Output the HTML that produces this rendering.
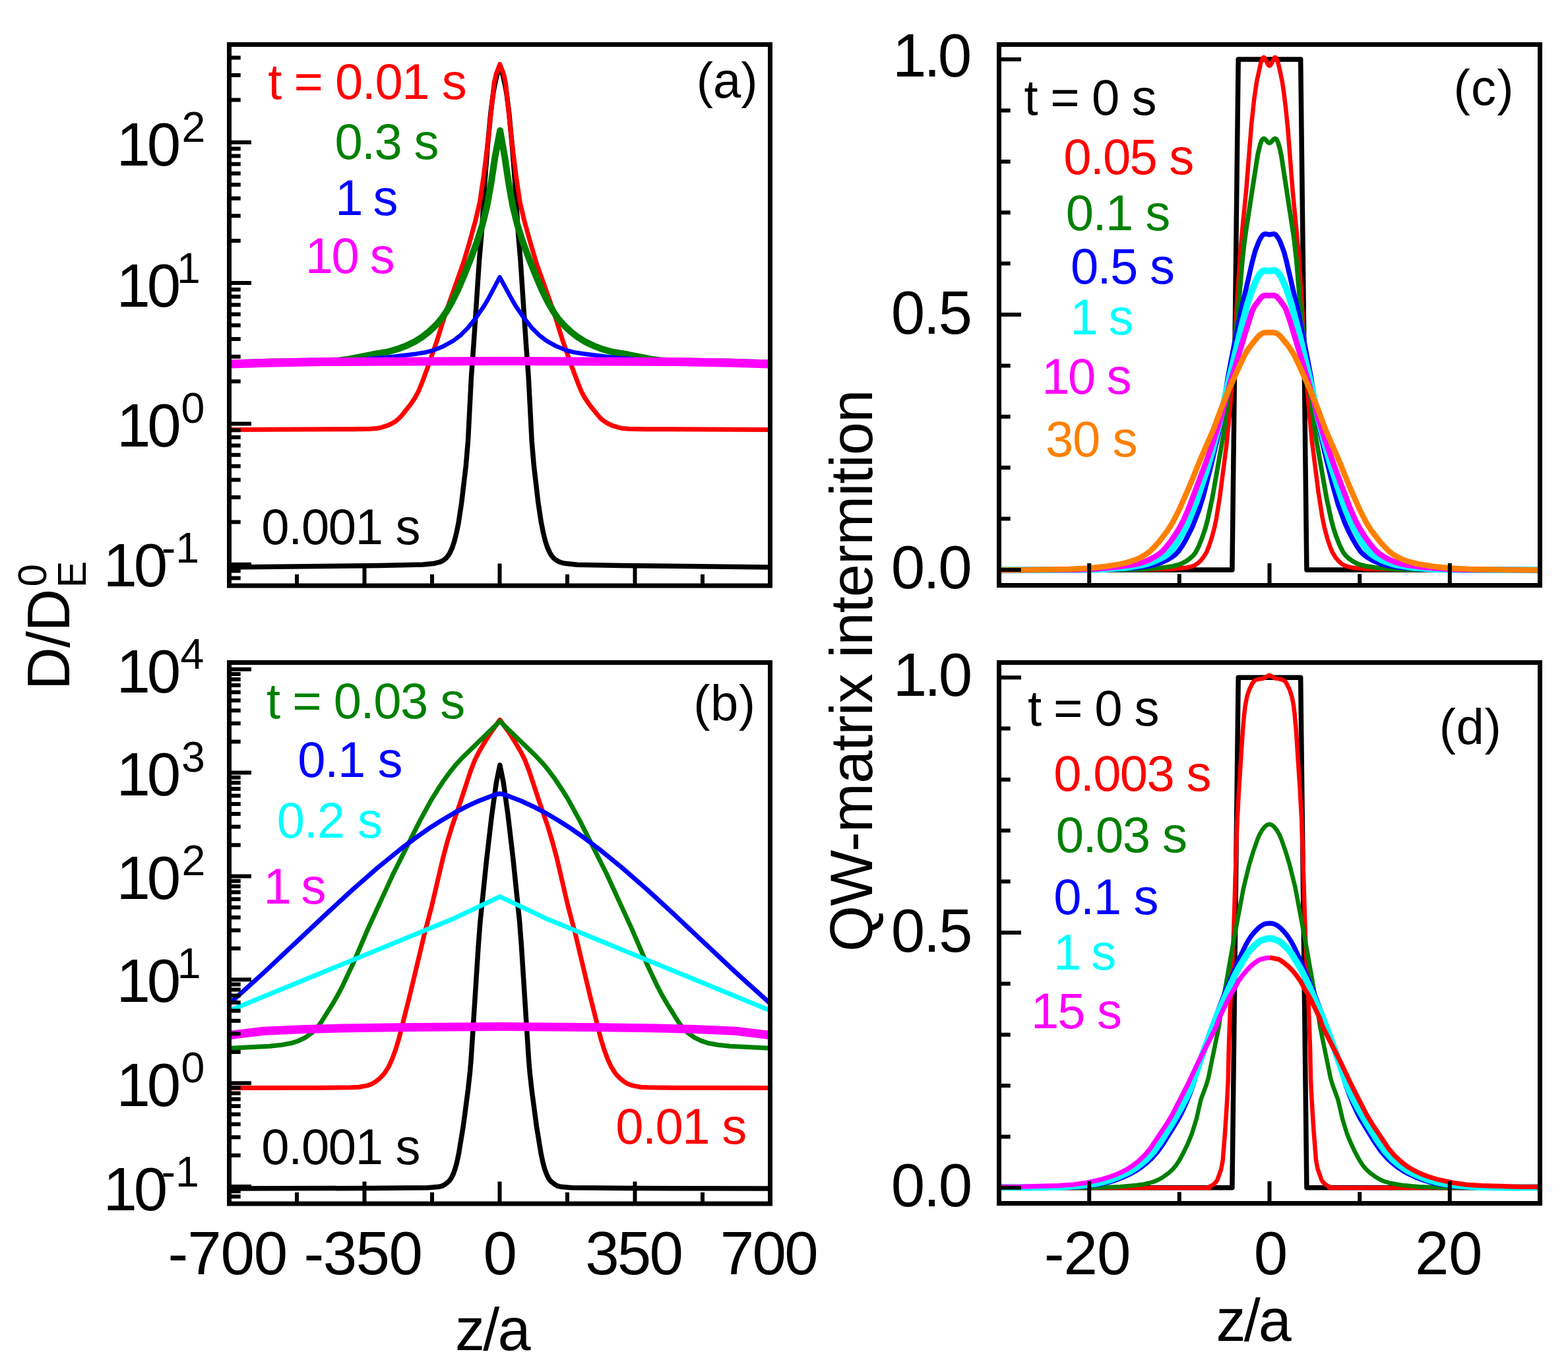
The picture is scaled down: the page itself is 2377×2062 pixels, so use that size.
<!DOCTYPE html><html><head><meta charset="utf-8"><title>Figure</title><style>html,body{margin:0;padding:0;background:#fff;}svg{display:block;}</style></head><body>
<svg xmlns="http://www.w3.org/2000/svg" width="2377" height="2062" viewBox="0 0 2377 2062" font-family="'Liberation Sans', Arial, Helvetica, sans-serif">
<rect width="2377" height="2062" fill="#fff"/>
<path d="M348.1,860.0L575.1,857.4L641.1,856.1L659.0,854.2L667.6,851.9L672.0,849.6L675.9,846.5L679.2,842.8L681.8,838.6L685.6,830.4L688.7,820.9L691.9,808.3L695.1,792.7L699.6,763.0L706.3,706.4L709.5,668.5L714.5,570.7L718.1,521.8L726.5,395.1L729.9,356.2L735.1,274.4L738.9,224.5L743.9,170.8L747.9,140.0L750.1,128.2L753.9,111.7L755.9,106.3L756.9,105.1L757.9,104.8L759.0,105.3L759.9,106.6L761.8,112.1L765.6,128.7L767.9,141.5L771.7,171.2L776.8,226.0L780.6,274.8L785.7,355.7L789.0,394.5L797.5,522.2L801.1,570.1L806.2,669.0L809.3,705.8L815.8,761.5L820.4,792.1L823.6,807.8L826.7,820.4L829.8,829.9L833.5,838.1L836.1,842.3L839.3,846.1L843.2,849.3L847.5,851.7L852.2,853.3L857.1,854.3L875.0,856.2L942.0,857.4L1167.5,860.0" fill="none" stroke="#000000" stroke-width="7.5" stroke-linejoin="round" stroke-linecap="butt"/>
<path d="M348.1,651.5L537.1,650.7L561.1,650.3L571.0,649.6L578.8,647.9L587.4,645.2L593.8,642.3L599.7,638.7L604.3,634.9L608.5,630.6L622.2,613.4L628.9,603.5L634.1,593.8L638.8,582.7L648.2,557.4L662.7,515.9L675.1,475.8L702.5,398.5L711.1,369.8L720.9,334.1L727.5,305.8L733.4,265.3L740.3,209.7L749.0,126.2L752.1,112.5L757.8,97.4L763.8,113.3L766.5,126.0L775.3,209.5L782.1,265.1L788.1,305.7L794.6,333.9L804.5,369.6L813.0,398.3L840.4,475.6L853.1,516.7L867.3,557.3L876.8,582.6L881.4,593.6L886.6,603.3L893.3,613.3L907.0,630.4L911.1,634.8L915.7,638.6L921.7,642.2L928.0,645.1L936.6,647.9L944.4,649.6L954.3,650.3L978.3,650.7L1167.5,651.5" fill="none" stroke="#ff0000" stroke-width="7" stroke-linejoin="round" stroke-linecap="butt"/>
<path d="M348.1,550.5L413.1,548.6L499.1,547.2L514.0,546.4L527.9,544.7L565.2,537.3L586.9,533.7L603.2,529.0L616.3,524.1L628.8,517.9L639.9,511.0L650.1,503.0L660.3,493.5L669.5,482.9L676.9,472.2L685.3,457.5L693.3,441.4L703.6,417.5L712.1,396.1L723.0,367.1L731.4,340.4L738.3,312.2L744.0,280.7L750.4,238.2L758.1,198.0L765.2,238.3L771.6,280.8L777.3,312.3L784.2,340.4L792.6,367.1L803.5,396.2L812.0,417.5L822.3,441.4L830.3,457.5L838.8,472.3L846.1,483.0L855.3,493.5L865.5,503.1L875.8,511.1L886.8,517.9L899.4,524.1L912.4,529.1L928.8,533.7L950.5,537.3L987.7,544.7L1001.6,546.4L1016.6,547.2L1102.6,548.6L1167.5,550.5" fill="none" stroke="#008000" stroke-width="10" stroke-linejoin="round" stroke-linecap="butt"/>
<path d="M348.1,550.7L401.1,549.1L505.1,546.9L555.0,544.5L585.9,542.0L631.5,536.4L645.4,534.2L657.0,531.1L671.8,525.2L686.6,517.0L697.8,508.6L709.2,497.3L721.6,481.7L733.5,464.4L740.6,452.3L757.6,420.2L774.9,452.0L781.9,464.1L793.2,480.6L806.2,497.1L817.5,508.3L828.7,516.8L843.5,525.1L858.3,531.0L869.9,534.1L883.7,536.3L929.4,542.0L960.3,544.4L1010.2,546.8L1114.2,549.1L1167.5,550.7" fill="none" stroke="#0000ff" stroke-width="6.5" stroke-linejoin="round" stroke-linecap="butt"/>
<path d="M348.1,552.0L405.1,550.3L490.1,548.5L758.1,547.6L1025.0,548.5L1110.0,550.3L1167.5,552.0" fill="none" stroke="#ff00ff" stroke-width="13" stroke-linejoin="round" stroke-linecap="butt"/>
<path d="M348.1,1802.0L563.1,1801.5L649.1,1800.7L664.0,1799.6L670.8,1798.0L674.2,1796.1L678.2,1793.1L681.0,1790.4L683.5,1787.2L686.7,1781.1L689.8,1772.6L692.5,1763.0L695.4,1749.3L702.2,1707.9L709.3,1654.3L712.4,1626.5L714.3,1603.6L725.1,1434.9L727.9,1398.0L737.4,1305.5L745.5,1236.0L752.4,1186.5L757.8,1160.0L763.2,1186.4L770.1,1236.0L778.2,1305.5L787.7,1398.0L790.5,1434.9L801.3,1603.6L803.2,1626.5L806.3,1654.3L813.4,1707.8L820.2,1749.3L823.1,1763.0L825.8,1772.6L828.9,1781.0L832.1,1787.2L834.5,1790.4L837.4,1793.1L841.4,1796.1L844.8,1798.0L851.5,1799.6L866.5,1800.7L952.5,1801.5L1167.5,1802.0" fill="none" stroke="#000000" stroke-width="7.5" stroke-linejoin="round" stroke-linecap="butt"/>
<path d="M348.1,1649.5L490.1,1649.3L532.1,1648.8L544.1,1648.2L556.8,1645.9L561.5,1644.4L566.0,1642.2L570.9,1638.9L575.5,1635.1L579.8,1630.8L583.6,1626.2L588.9,1617.8L594.0,1607.0L599.5,1592.0L604.5,1575.7L621.8,1506.9L643.6,1415.4L654.5,1373.8L671.1,1302.7L677.7,1277.6L685.6,1251.8L697.7,1216.8L713.6,1168.4L719.8,1152.5L726.5,1139.2L736.7,1122.0L745.5,1108.6L757.8,1091.4L770.1,1108.4L778.8,1121.8L789.0,1139.0L795.8,1152.4L801.9,1168.2L817.9,1216.7L830.0,1251.6L837.8,1277.5L844.5,1302.6L861.0,1373.7L872.0,1415.3L893.7,1506.7L911.0,1575.6L916.0,1591.8L921.6,1606.8L926.7,1617.7L932.0,1626.1L935.7,1630.8L940.0,1635.0L944.6,1638.8L949.5,1642.1L954.0,1644.3L958.6,1645.9L971.4,1648.2L983.4,1648.8L1024.4,1649.3L1167.5,1649.5" fill="none" stroke="#ff0000" stroke-width="7" stroke-linejoin="round" stroke-linecap="butt"/>
<path d="M348.4,1589.3L408.3,1586.3L427.2,1584.2L441.0,1581.8L452.4,1578.2L463.1,1573.0L472.8,1566.0L481.3,1557.6L487.1,1549.5L504.1,1522.4L512.1,1508.5L519.1,1495.3L534.9,1461.8L557.7,1408.5L596.1,1324.9L637.0,1243.6L654.3,1212.0L663.8,1196.8L673.8,1181.8L683.3,1168.9L692.2,1158.1L702.5,1147.2L757.8,1093.5L813.1,1147.1L823.4,1158.0L832.2,1168.8L841.7,1181.7L851.7,1196.7L861.2,1211.9L879.0,1244.4L919.5,1324.8L957.8,1408.4L980.7,1461.7L996.5,1495.2L1003.4,1508.4L1011.5,1522.3L1028.4,1549.4L1034.3,1557.5L1042.7,1565.9L1052.4,1572.9L1063.1,1578.2L1074.5,1581.8L1088.3,1584.2L1107.2,1586.2L1167.2,1589.3" fill="none" stroke="#008000" stroke-width="7" stroke-linejoin="round" stroke-linecap="butt"/>
<path d="M348.1,1521.3L400.1,1474.5L494.1,1386.1L533.1,1350.2L572.2,1315.9L607.9,1286.9L630.3,1270.1L649.9,1256.3L669.3,1243.9L689.1,1232.2L708.6,1222.1L725.9,1214.3L750.2,1205.1L754.0,1204.0L757.9,1203.5L761.7,1204.0L765.5,1205.1L789.8,1214.3L807.1,1222.2L826.6,1232.3L846.5,1244.0L865.8,1256.4L885.4,1270.2L907.8,1287.0L942.7,1315.4L981.9,1349.6L1020.9,1385.5L1115.6,1474.6L1167.5,1521.3" fill="none" stroke="#0000ff" stroke-width="7" stroke-linejoin="round" stroke-linecap="butt"/>
<path d="M348.4,1532.0L688.8,1392.2L757.8,1359.5L827.4,1392.4L1167.2,1532.0" fill="none" stroke="#00ffff" stroke-width="7" stroke-linejoin="round" stroke-linecap="butt"/>
<path d="M348.1,1569.5L399.7,1563.2L461.6,1560.4L516.6,1559.1L602.6,1557.7L757.6,1556.5L912.6,1557.7L998.6,1559.1L1053.6,1560.4L1115.5,1563.2L1167.5,1569.5" fill="none" stroke="#ff00ff" stroke-width="13" stroke-linejoin="round" stroke-linecap="butt"/>
<path d="M1514.5,863.9L1867.9,863.9L1877.2,90.1L1971.7,90.1L1980.9,863.9L2334.5,863.9" fill="none" stroke="#000" stroke-width="7.5" stroke-linejoin="round" stroke-linecap="butt"/>
<path d="M1514.4,863.9L1726.4,863.6L1777.4,862.9L1799.2,860.5L1806.1,859.0L1810.8,857.3L1815.8,854.1L1820.2,850.0L1825.1,843.7L1829.2,836.9L1833.0,827.6L1837.2,814.3L1841.1,799.8L1843.9,786.1L1849.3,752.5L1859.4,674.2L1864.5,621.4L1869.3,561.6L1875.6,450.8L1879.8,387.9L1883.8,342.1L1889.2,288.4L1897.1,188.7L1901.4,148.9L1905.2,123.2L1911.4,94.9L1913.8,88.4L1915.7,86.9L1917.6,88.4L1921.8,97.4L1922.9,99.0L1924.3,99.8L1925.7,99.3L1926.8,97.7L1931.6,87.9L1932.9,86.9L1933.6,87.0L1934.8,88.1L1937.0,93.6L1939.7,104.2L1943.6,122.8L1945.9,137.7L1949.2,164.5L1952.3,195.3L1959.6,289.0L1968.6,382.6L1972.8,445.4L1979.4,560.2L1983.5,612.1L1988.7,667.8L1998.6,746.2L2004.8,785.7L2007.9,800.4L2012.0,815.9L2016.7,830.1L2020.3,838.3L2024.6,845.1L2029.0,850.5L2033.5,854.5L2037.7,857.1L2042.4,858.9L2049.2,860.5L2072.0,862.9L2125.0,863.6L2334.4,863.9" fill="none" stroke="#ff0000" stroke-width="6.5" stroke-linejoin="round" stroke-linecap="butt"/>
<path d="M1514.4,863.9L1713.4,863.4L1734.4,862.9L1759.3,861.1L1778.1,858.4L1785.9,856.5L1791.5,854.4L1797.7,851.2L1803.4,847.2L1808.6,842.5L1812.3,837.8L1817.3,828.0L1822.5,815.0L1827.3,800.8L1830.9,787.3L1837.8,755.0L1854.4,660.5L1858.8,626.8L1875.8,480.8L1878.6,451.9L1882.9,400.1L1885.8,372.2L1888.9,349.4L1906.6,234.8L1910.6,218.3L1912.3,213.6L1913.9,211.2L1915.2,210.2L1916.8,210.3L1918.2,211.3L1922.1,215.7L1924.4,216.8L1926.7,215.7L1930.6,211.3L1932.8,210.1L1935.0,211.2L1937.3,215.5L1939.8,224.1L1942.4,235.8L1961.5,360.4L1965.3,394.1L1970.3,453.9L1973.3,483.8L1990.3,629.8L1994.9,663.5L2011.2,756.1L2017.9,787.4L2021.5,800.9L2025.9,814.2L2031.1,827.2L2036.0,837.0L2039.5,841.8L2044.6,846.6L2050.3,850.7L2056.4,854.0L2063.0,856.5L2069.8,858.2L2088.5,861.0L2114.5,862.9L2134.5,863.4L2334.4,863.9" fill="none" stroke="#008000" stroke-width="7" stroke-linejoin="round" stroke-linecap="butt"/>
<path d="M1514.4,863.9L1674.4,863.5L1693.4,862.9L1726.3,860.5L1747.0,857.2L1754.7,855.1L1761.3,852.7L1769.5,848.9L1777.2,844.3L1782.7,840.0L1786.7,835.6L1791.9,828.2L1797.0,819.6L1807.8,798.2L1817.6,773.0L1824.4,751.1L1836.2,704.5L1847.1,657.8L1850.7,639.1L1860.8,575.9L1865.8,548.4L1881.4,471.0L1898.6,395.9L1903.1,379.5L1908.6,365.6L1911.4,360.3L1913.7,357.0L1915.9,355.2L1918.6,354.6L1924.3,355.7L1931.0,354.6L1932.8,355.1L1934.3,356.2L1937.3,360.2L1940.6,366.3L1946.6,382.2L1950.4,396.8L1966.8,467.9L1982.2,544.3L1987.2,570.9L1997.8,637.0L2001.5,656.7L2007.9,685.0L2020.1,734.5L2028.6,765.3L2039.0,793.5L2043.9,804.4L2050.8,817.7L2056.9,828.1L2062.6,836.3L2066.8,840.6L2072.3,844.8L2080.1,849.3L2088.3,853.0L2094.9,855.4L2102.6,857.4L2123.4,860.6L2155.3,862.9L2174.3,863.5L2334.4,863.9" fill="none" stroke="#0000ff" stroke-width="7.5" stroke-linejoin="round" stroke-linecap="butt"/>
<path d="M1514.4,864.3L1645.4,863.8L1672.4,862.9L1706.3,860.5L1730.0,856.9L1737.8,855.0L1746.3,852.2L1755.6,848.4L1763.6,844.3L1770.2,839.8L1774.5,835.7L1780.7,827.8L1787.7,816.9L1795.9,802.0L1802.4,788.5L1813.2,761.6L1829.8,711.2L1838.2,682.4L1848.0,643.6L1861.8,581.2L1883.2,490.6L1891.1,460.7L1897.6,440.7L1905.5,422.4L1909.0,416.3L1912.2,412.5L1914.6,410.8L1916.4,410.2L1924.3,410.7L1931.2,410.1L1934.0,410.7L1937.1,413.0L1939.6,416.1L1942.7,421.2L1950.0,437.7L1957.3,459.5L1971.1,512.7L1988.7,588.7L1997.7,630.7L2007.0,668.6L2017.2,705.2L2032.6,752.8L2040.5,774.4L2050.9,798.2L2063.5,820.9L2068.5,828.4L2073.4,834.7L2078.4,839.6L2085.0,844.1L2093.0,848.3L2102.2,852.1L2110.8,854.9L2118.5,856.8L2142.2,860.5L2176.1,862.9L2203.1,863.8L2334.4,864.3" fill="none" stroke="#00ffff" stroke-width="10" stroke-linejoin="round" stroke-linecap="butt"/>
<path d="M1514.4,864.3L1633.4,863.7L1668.4,862.0L1694.2,859.6L1719.0,856.1L1726.8,854.4L1734.4,852.0L1742.7,848.5L1751.5,843.8L1758.2,839.4L1763.4,834.7L1774.2,821.6L1785.9,804.2L1793.5,790.1L1801.6,771.8L1828.7,699.8L1843.8,655.3L1852.0,628.5L1865.3,579.2L1887.5,505.5L1897.7,473.1L1901.0,465.8L1910.9,452.1L1914.5,448.7L1918.2,447.8L1924.1,448.3L1931.0,447.8L1934.6,449.0L1939.4,454.0L1947.5,465.4L1949.4,468.8L1956.2,488.7L1983.1,577.7L2000.3,640.4L2011.7,675.6L2022.7,706.7L2046.6,770.4L2055.9,791.4L2062.1,802.8L2069.6,814.6L2078.5,826.7L2085.7,835.0L2091.0,839.6L2097.6,844.0L2106.5,848.7L2114.8,852.1L2122.4,854.5L2130.2,856.2L2155.0,859.7L2180.9,862.0L2215.8,863.7L2334.4,864.3" fill="none" stroke="#ff00ff" stroke-width="8.5" stroke-linejoin="round" stroke-linecap="butt"/>
<path d="M1514.4,864.3L1561.4,864.0L1621.4,862.9L1650.3,861.4L1674.2,859.1L1697.9,855.4L1707.7,853.1L1716.3,850.5L1723.8,847.7L1731.0,844.2L1737.8,840.1L1743.3,835.8L1749.1,830.2L1755.8,822.8L1769.9,804.6L1777.8,791.9L1787.8,772.3L1803.1,737.5L1820.4,694.9L1839.6,650.9L1851.0,620.0L1861.8,593.0L1881.1,550.2L1888.2,535.9L1892.4,529.1L1899.0,520.2L1905.3,512.5L1910.2,507.6L1913.6,505.4L1917.3,504.2L1929.3,504.1L1932.2,504.4L1935.0,505.3L1938.4,507.4L1941.3,510.1L1953.3,524.8L1961.4,537.4L1967.6,550.0L1986.9,592.8L1997.7,619.7L2009.5,651.6L2028.3,694.7L2046.0,738.2L2060.9,772.1L2070.9,791.7L2078.8,804.4L2092.9,822.6L2105.3,835.6L2110.8,839.9L2117.6,844.1L2124.8,847.6L2132.3,850.5L2140.9,853.0L2150.6,855.3L2174.3,859.1L2198.2,861.4L2227.2,862.9L2287.1,864.0L2334.4,864.3" fill="none" stroke="#ff8000" stroke-width="8.5" stroke-linejoin="round" stroke-linecap="butt"/>
<path d="M1514.5,1800.8L1867.9,1800.8L1877.2,1027.2L1971.7,1027.2L1980.9,1800.8L2334.5,1800.8" fill="none" stroke="#000" stroke-width="7.5" stroke-linejoin="round" stroke-linecap="butt"/>
<path d="M1514.4,1800.8L1833.1,1801.0L1830.7,1800.2L1836.3,1798.0L1839.6,1795.8L1843.2,1792.4L1845.4,1789.1L1851.1,1773.1L1853.7,1759.3L1857.4,1712.5L1860.3,1666.6L1861.7,1637.6L1862.8,1587.6L1865.0,1525.6L1869.7,1426.8L1875.2,1251.8L1878.2,1195.9L1883.9,1109.1L1885.9,1085.2L1888.0,1068.3L1890.5,1055.6L1894.0,1045.2L1898.4,1036.2L1900.8,1033.0L1903.1,1031.2L1908.8,1029.5L1915.7,1028.6L1922.4,1024.4L1924.2,1023.8L1926.9,1024.6L1932.6,1028.4L1939.5,1029.4L1945.2,1031.0L1947.7,1032.6L1950.1,1035.8L1954.6,1044.7L1958.1,1055.1L1960.6,1066.8L1962.7,1083.7L1964.9,1108.6L1970.5,1194.4L1973.6,1251.3L1979.2,1427.3L1983.8,1525.1L1986.0,1588.1L1987.1,1638.1L1988.5,1667.1L1991.3,1712.0L1995.0,1758.8L1997.6,1772.6L2003.6,1789.5L2005.9,1792.7L2009.6,1796.1L2013.0,1798.2L2018.0,1800.1L2017.7,1800.6L2015.3,1801.0L2334.4,1800.8" fill="none" stroke="#ff0000" stroke-width="6.5" stroke-linejoin="round" stroke-linecap="butt"/>
<path d="M1514.4,1800.8L1664.4,1800.5L1698.4,1799.2L1723.3,1797.0L1734.1,1795.4L1742.9,1793.5L1750.6,1791.1L1757.0,1788.3L1763.8,1784.2L1771.8,1778.3L1777.7,1772.9L1782.9,1766.8L1788.3,1758.5L1794.9,1746.1L1801.3,1732.6L1806.6,1719.6L1813.7,1696.7L1820.4,1667.4L1829.0,1644.0L1831.8,1634.4L1847.8,1556.0L1851.2,1533.3L1868.0,1437.8L1885.1,1346.4L1893.4,1312.4L1899.8,1291.3L1906.7,1271.5L1909.5,1265.1L1913.0,1259.1L1917.3,1253.6L1921.0,1250.6L1924.4,1249.7L1927.8,1250.6L1931.5,1253.6L1935.8,1259.1L1939.3,1265.1L1942.1,1271.5L1949.0,1291.3L1955.3,1312.4L1963.7,1346.3L1980.8,1437.7L1997.6,1533.3L2001.0,1556.0L2017.0,1634.4L2020.1,1644.9L2028.4,1667.4L2035.1,1696.6L2042.2,1719.6L2047.5,1732.5L2053.9,1746.1L2060.5,1758.4L2065.9,1766.8L2071.1,1772.9L2077.0,1778.3L2085.0,1784.2L2092.7,1788.8L2099.2,1791.5L2106.8,1793.7L2125.5,1797.0L2150.4,1799.2L2184.4,1800.5L2334.4,1800.8" fill="none" stroke="#008000" stroke-width="6.5" stroke-linejoin="round" stroke-linecap="butt"/>
<path d="M1514.4,1800.8L1626.4,1800.0L1647.3,1798.5L1667.1,1795.6L1678.8,1793.0L1689.4,1789.9L1700.6,1785.7L1712.5,1780.4L1721.2,1775.6L1728.8,1770.7L1737.5,1763.9L1744.9,1757.2L1754.9,1746.1L1764.6,1732.1L1785.1,1699.0L1791.2,1687.5L1797.1,1674.8L1803.6,1659.1L1808.8,1645.0L1811.4,1636.4L1815.0,1620.8L1817.5,1612.2L1834.1,1565.0L1859.0,1499.6L1878.6,1453.6L1887.1,1435.5L1891.3,1427.6L1895.6,1420.8L1901.2,1413.7L1906.7,1407.9L1911.3,1404.1L1915.5,1401.5L1919.3,1400.3L1924.3,1399.8L1929.2,1400.2L1933.0,1401.4L1937.3,1403.9L1941.9,1407.7L1947.4,1413.5L1953.0,1420.6L1957.3,1427.3L1961.6,1435.2L1970.0,1453.3L1990.0,1500.3L2014.6,1564.7L2031.2,1611.9L2034.0,1621.5L2037.3,1636.1L2040.3,1645.7L2045.4,1659.8L2051.6,1674.5L2057.5,1687.2L2063.6,1698.7L2083.5,1731.0L2093.7,1745.9L2103.7,1757.0L2111.1,1763.7L2119.8,1770.5L2127.3,1775.5L2136.1,1780.2L2147.9,1785.6L2159.1,1789.8L2169.7,1793.0L2181.4,1795.6L2201.2,1798.5L2222.1,1800.0L2334.4,1800.8" fill="none" stroke="#0000ff" stroke-width="7.3" stroke-linejoin="round" stroke-linecap="butt"/>
<path d="M1514.4,1800.3L1575.4,1800.4L1609.4,1799.7L1638.3,1797.5L1662.1,1794.3L1672.8,1791.9L1683.4,1788.8L1694.6,1784.6L1706.5,1779.5L1714.5,1775.3L1722.1,1770.5L1730.1,1764.5L1737.0,1758.7L1748.7,1746.4L1759.8,1730.9L1777.7,1702.1L1790.7,1679.5L1798.1,1665.3L1803.9,1652.6L1809.0,1639.6L1825.8,1590.4L1844.9,1539.9L1862.3,1499.5L1872.0,1478.6L1878.1,1467.1L1890.5,1446.6L1895.3,1440.2L1900.9,1434.5L1907.6,1428.5L1910.9,1426.3L1919.4,1423.4L1924.3,1422.7L1929.2,1423.3L1937.7,1426.2L1941.0,1428.3L1947.7,1434.3L1953.3,1440.0L1958.2,1446.3L1970.6,1466.9L1977.1,1479.3L1986.4,1499.2L2003.8,1539.6L2022.9,1590.1L2040.0,1640.3L2045.2,1653.3L2050.6,1665.1L2058.0,1679.3L2070.9,1701.8L2088.3,1729.9L2099.9,1746.1L2111.6,1758.5L2118.4,1764.3L2126.4,1770.3L2134.0,1775.1L2142.0,1779.3L2153.9,1784.5L2165.2,1788.7L2175.7,1791.8L2186.4,1794.2L2210.2,1797.5L2239.1,1799.7L2273.1,1800.4L2334.4,1800.3" fill="none" stroke="#00ffff" stroke-width="10" stroke-linejoin="round" stroke-linecap="butt"/>
<path d="M1514.4,1799.3L1542.4,1799.3L1604.4,1797.7L1627.3,1796.0L1647.1,1793.2L1671.5,1787.7L1682.9,1784.1L1693.2,1780.3L1702.3,1776.2L1710.2,1771.8L1717.8,1766.9L1725.6,1760.7L1735.7,1751.1L1744.0,1741.1L1767.9,1705.3L1776.7,1690.8L1799.1,1647.2L1816.2,1611.0L1841.5,1561.1L1844.4,1554.7L1848.0,1544.3L1860.7,1517.2L1864.9,1509.2L1870.8,1500.0L1877.3,1487.6L1883.7,1478.7L1890.8,1470.2L1896.4,1464.6L1902.6,1459.5L1907.5,1456.1L1911.1,1454.4L1920.8,1452.3L1924.8,1452.0" fill="none" stroke="#ff00ff" stroke-width="7.2" stroke-linejoin="round" stroke-linecap="butt"/>
<path d="M1924.8,1452.0L1928.7,1452.5L1938.5,1454.6L1942.0,1456.5L1946.8,1460.0L1953.0,1465.1L1958.6,1470.8L1965.6,1479.3L1971.4,1487.4L1977.9,1499.8L1983.8,1509.1L1988.0,1517.0L2000.8,1544.2L2004.3,1554.5L2007.2,1560.9L2032.5,1610.8L2049.6,1647.0L2072.0,1690.6L2081.3,1706.0L2105.3,1741.7L2113.6,1751.6L2123.8,1761.2L2131.7,1767.4L2139.2,1772.2L2147.2,1776.5L2156.3,1780.6L2166.6,1784.4L2178.1,1787.9L2202.5,1793.3L2222.3,1796.1L2245.2,1797.7L2307.2,1799.4L2334.4,1799.3" fill="none" stroke="#ff0000" stroke-width="7.2" stroke-linejoin="round" stroke-linecap="butt"/>
<rect x="347.5" y="67.5" width="820.0" height="820.5" fill="none" stroke="#000" stroke-width="7"/>
<rect x="347.5" y="1004.5" width="820.0" height="820.5" fill="none" stroke="#000" stroke-width="7"/>
<rect x="1514.5" y="67.5" width="820.0" height="820.0" fill="none" stroke="#000" stroke-width="7"/>
<rect x="1514.5" y="1004.5" width="820.0" height="820.0" fill="none" stroke="#000" stroke-width="7"/>
<path d="M347.5,855.8h33.5M347.5,642.5h33.5M347.5,429.1h33.5M347.5,215.8h33.5M347.5,876.5h17.2M347.5,865.6h17.2M347.5,791.6h17.2M347.5,754.0h17.2M347.5,727.4h17.2M347.5,706.7h17.2M347.5,689.8h17.2M347.5,675.5h17.2M347.5,663.1h17.2M347.5,652.2h17.2M347.5,578.2h17.2M347.5,540.7h17.2M347.5,514.0h17.2M347.5,493.3h17.2M347.5,476.5h17.2M347.5,462.2h17.2M347.5,449.8h17.2M347.5,438.9h17.2M347.5,364.9h17.2M347.5,327.3h17.2M347.5,300.7h17.2M347.5,280.0h17.2M347.5,263.1h17.2M347.5,248.8h17.2M347.5,236.5h17.2M347.5,225.6h17.2M347.5,151.6h17.2M347.5,114.0h17.2M347.5,87.4h17.2" stroke="#000" stroke-width="6" fill="none"/>
<path d="M347.5,1799.0h33.5M347.5,1642.2h33.5M347.5,1485.3h33.5M347.5,1328.5h33.5M347.5,1171.6h33.5M347.5,1014.8h33.5M347.5,1814.2h17.2M347.5,1806.2h17.2M347.5,1751.8h17.2M347.5,1724.2h17.2M347.5,1704.6h17.2M347.5,1689.4h17.2M347.5,1677.0h17.2M347.5,1666.5h17.2M347.5,1657.4h17.2M347.5,1649.3h17.2M347.5,1594.9h17.2M347.5,1567.3h17.2M347.5,1547.7h17.2M347.5,1532.5h17.2M347.5,1520.1h17.2M347.5,1509.6h17.2M347.5,1500.5h17.2M347.5,1492.5h17.2M347.5,1438.1h17.2M347.5,1410.5h17.2M347.5,1390.9h17.2M347.5,1375.7h17.2M347.5,1363.3h17.2M347.5,1352.8h17.2M347.5,1343.7h17.2M347.5,1335.7h17.2M347.5,1281.3h17.2M347.5,1253.6h17.2M347.5,1234.1h17.2M347.5,1218.9h17.2M347.5,1206.4h17.2M347.5,1195.9h17.2M347.5,1186.8h17.2M347.5,1178.8h17.2M347.5,1124.4h17.2M347.5,1096.8h17.2M347.5,1077.2h17.2M347.5,1062.0h17.2M347.5,1049.6h17.2M347.5,1039.1h17.2M347.5,1030.0h17.2M347.5,1022.0h17.2" stroke="#000" stroke-width="6" fill="none"/>
<path d="M1514.5,863.9h33.5M1514.5,477.0h33.5M1514.5,90.1h33.5M1514.5,786.5h17.2M1514.5,709.1h17.2M1514.5,631.8h17.2M1514.5,554.4h17.2M1514.5,399.6h17.2M1514.5,322.2h17.2M1514.5,244.9h17.2M1514.5,167.5h17.2" stroke="#000" stroke-width="6" fill="none"/>
<path d="M1514.5,1800.8h33.5M1514.5,1414.0h33.5M1514.5,1027.2h33.5M1514.5,1723.4h17.2M1514.5,1646.1h17.2M1514.5,1568.7h17.2M1514.5,1491.4h17.2M1514.5,1336.6h17.2M1514.5,1259.3h17.2M1514.5,1181.9h17.2M1514.5,1104.6h17.2" stroke="#000" stroke-width="6" fill="none"/>
<path d="M552.5,888.0v-33.5M757.5,888.0v-33.5M962.5,888.0v-33.5M450.0,888.0v-17.2M655.0,888.0v-17.2M860.0,888.0v-17.2M1065.0,888.0v-17.2" stroke="#000" stroke-width="6" fill="none"/>
<path d="M552.5,1825.0v-33.5M757.5,1825.0v-33.5M962.5,1825.0v-33.5M450.0,1825.0v-17.2M655.0,1825.0v-17.2M860.0,1825.0v-17.2M1065.0,1825.0v-17.2" stroke="#000" stroke-width="6" fill="none"/>
<path d="M1651.2,887.5v-33.5M1924.5,887.5v-33.5M2197.8,887.5v-33.5M1787.8,887.5v-17.2M2061.2,887.5v-17.2" stroke="#000" stroke-width="6" fill="none"/>
<path d="M1651.2,1824.5v-33.5M1924.5,1824.5v-33.5M2197.8,1824.5v-33.5M1787.8,1824.5v-17.2M2061.2,1824.5v-17.2" stroke="#000" stroke-width="6" fill="none"/>
<text x="406.3" y="150.0" font-size="76" fill="#ff0000" textLength="301.4" lengthAdjust="spacing">t = 0.01 s</text>
<text x="507.5" y="240.5" font-size="76" fill="#008000" textLength="158.1" lengthAdjust="spacing">0.3 s</text>
<text x="508.3" y="325.5" font-size="76" fill="#0000ff" textLength="95.1" lengthAdjust="spacing">1 s</text>
<text x="462.7" y="413.5" font-size="76" fill="#ff00ff" textLength="136.0" lengthAdjust="spacing">10 s</text>
<text x="396.2" y="824.5" font-size="76" fill="#000000" textLength="241.3" lengthAdjust="spacing">0.001 s</text>
<text x="1055.8" y="147.8" font-size="76" fill="#000000" textLength="92.7" lengthAdjust="spacing">(a)</text>
<text x="404.0" y="1088.5" font-size="76" fill="#008000" textLength="301.3" lengthAdjust="spacing">t = 0.03 s</text>
<text x="451.3" y="1177.5" font-size="76" fill="#0000ff" textLength="159.2" lengthAdjust="spacing">0.1 s</text>
<text x="419.7" y="1270.0" font-size="76" fill="#00ffff" textLength="160.3" lengthAdjust="spacing">0.2 s</text>
<text x="399.4" y="1370.0" font-size="76" fill="#ff00ff" textLength="95.0" lengthAdjust="spacing">1 s</text>
<text x="396.2" y="1764.5" font-size="76" fill="#000000" textLength="241.3" lengthAdjust="spacing">0.001 s</text>
<text x="933.3" y="1734.0" font-size="76" fill="#ff0000" textLength="199.0" lengthAdjust="spacing">0.01 s</text>
<text x="1051.2" y="1092.0" font-size="76" fill="#000000" textLength="93.8" lengthAdjust="spacing">(b)</text>
<text x="1552.6" y="173.5" font-size="76" fill="#000000" textLength="201.0" lengthAdjust="spacing">t = 0 s</text>
<text x="1612.2" y="263.5" font-size="76" fill="#ff0000" textLength="198.0" lengthAdjust="spacing">0.05 s</text>
<text x="1615.7" y="348.5" font-size="76" fill="#008000" textLength="158.5" lengthAdjust="spacing">0.1 s</text>
<text x="1623.0" y="429.5" font-size="76" fill="#0000ff" textLength="158.0" lengthAdjust="spacing">0.5 s</text>
<text x="1622.2" y="506.5" font-size="76" fill="#00ffff" textLength="96.2" lengthAdjust="spacing">1 s</text>
<text x="1579.3" y="596.5" font-size="76" fill="#ff00ff" textLength="136.3" lengthAdjust="spacing">10 s</text>
<text x="1585.1" y="692.0" font-size="76" fill="#ff8000" textLength="139.3" lengthAdjust="spacing">30 s</text>
<text x="2203.4" y="159.4" font-size="76" fill="#000000" textLength="91.2" lengthAdjust="spacing">(c)</text>
<text x="1557.9" y="1099.5" font-size="76" fill="#000000" textLength="199.7" lengthAdjust="spacing">t = 0 s</text>
<text x="1597.2" y="1198.5" font-size="76" fill="#ff0000" textLength="239.2" lengthAdjust="spacing">0.003 s</text>
<text x="1600.8" y="1291.5" font-size="76" fill="#008000" textLength="199.2" lengthAdjust="spacing">0.03 s</text>
<text x="1597.2" y="1385.5" font-size="76" fill="#0000ff" textLength="159.3" lengthAdjust="spacing">0.1 s</text>
<text x="1596.9" y="1470.0" font-size="76" fill="#00ffff" textLength="95.4" lengthAdjust="spacing">1 s</text>
<text x="1563.0" y="1558.5" font-size="76" fill="#ff00ff" textLength="137.9" lengthAdjust="spacing">15 s</text>
<text x="2181.8" y="1127.9" font-size="76" fill="#000000" textLength="93.9" lengthAdjust="spacing">(d)</text>
<text x="176.6" y="251.0" font-size="92.5" fill="#000" textLength="97.6" lengthAdjust="spacing">10</text>
<text x="275.6" y="215.0" font-size="64.5">2</text>
<text x="176.6" y="464.5" font-size="92.5" fill="#000" textLength="97.6" lengthAdjust="spacing">10</text>
<text x="268.0" y="428.5" font-size="64.5">1</text>
<text x="177.0" y="676.5" font-size="92.5" fill="#000" textLength="97.6" lengthAdjust="spacing">10</text>
<text x="274.6" y="640.5" font-size="64.5">0</text>
<text x="156.5" y="888.5" font-size="92.5" fill="#000" textLength="97.6" lengthAdjust="spacing">10</text>
<text x="244.8" y="852.5" font-size="64.5">-1</text>
<text x="176.6" y="1049.5" font-size="92.5" fill="#000" textLength="97.6" lengthAdjust="spacing">10</text>
<text x="273.4" y="1013.5" font-size="64.5">4</text>
<text x="176.6" y="1206.0" font-size="92.5" fill="#000" textLength="97.6" lengthAdjust="spacing">10</text>
<text x="274.9" y="1170.0" font-size="64.5">3</text>
<text x="176.6" y="1363.0" font-size="92.5" fill="#000" textLength="97.6" lengthAdjust="spacing">10</text>
<text x="275.6" y="1327.0" font-size="64.5">2</text>
<text x="176.6" y="1519.3" font-size="92.5" fill="#000" textLength="97.6" lengthAdjust="spacing">10</text>
<text x="268.7" y="1483.3" font-size="64.5">1</text>
<text x="176.6" y="1677.3" font-size="92.5" fill="#000" textLength="97.6" lengthAdjust="spacing">10</text>
<text x="274.6" y="1641.3" font-size="64.5">0</text>
<text x="156.5" y="1835.0" font-size="92.5" fill="#000" textLength="97.6" lengthAdjust="spacing">10</text>
<text x="244.5" y="1799.0" font-size="64.5">-1</text>
<text x="1352.9" y="116.2" font-size="92.5" fill="#000" textLength="120.3" lengthAdjust="spacing">1.0</text>
<text x="1350.7" y="505.5" font-size="92.5" fill="#000" textLength="123.2" lengthAdjust="spacing">0.5</text>
<text x="1350.7" y="892.0" font-size="92.5" fill="#000" textLength="123.0" lengthAdjust="spacing">0.0</text>
<text x="1353.7" y="1054.5" font-size="92.5" fill="#000" textLength="120.5" lengthAdjust="spacing">1.0</text>
<text x="1350.8" y="1442.5" font-size="92.5" fill="#000" textLength="123.6" lengthAdjust="spacing">0.5</text>
<text x="1350.8" y="1829.0" font-size="92.5" fill="#000" textLength="123.4" lengthAdjust="spacing">0.0</text>
<text x="254.6" y="1932.0" font-size="92.5" fill="#000" textLength="181.5" lengthAdjust="spacing">-700</text>
<text x="460.4" y="1932.0" font-size="92.5" fill="#000" textLength="180.6" lengthAdjust="spacing">-350</text>
<text x="732.5" y="1932.0" font-size="92.5" fill="#000" textLength="51.1" lengthAdjust="spacing">0</text>
<text x="887.2" y="1932.0" font-size="92.5" fill="#000" textLength="148.7" lengthAdjust="spacing">350</text>
<text x="1091.7" y="1932.0" font-size="92.5" fill="#000" textLength="149.1" lengthAdjust="spacing">700</text>
<text x="1582.8" y="1932.0" font-size="92.5" fill="#000" textLength="131.7" lengthAdjust="spacing">-20</text>
<text x="1900.8" y="1932.0" font-size="92.5" fill="#000" textLength="49.3" lengthAdjust="spacing">0</text>
<text x="2144.9" y="1932.0" font-size="92.5" fill="#000" textLength="102.5" lengthAdjust="spacing">20</text>
<text x="689.9" y="2047.0" font-size="90" fill="#000" textLength="114.6" lengthAdjust="spacing">z/a</text>
<text x="1843.6" y="2033.0" font-size="90" fill="#000" textLength="114.3" lengthAdjust="spacing">z/a</text>
<text transform="translate(1321.5,1443.0) rotate(-90)" x="0" y="0" font-size="90" textLength="852.3" lengthAdjust="spacing">QW-matrix intermition</text>
<text transform="translate(105.4,1046.3) rotate(-90)" x="0" y="0" font-size="90" textLength="153.6" lengthAdjust="spacing">D/D</text>
<text transform="translate(130.4,891.3) rotate(-90)" x="0" y="0" font-size="61">E</text>
<text transform="translate(69.6,889.6) rotate(-90)" x="0" y="0" font-size="62">0</text>
</svg></body></html>
